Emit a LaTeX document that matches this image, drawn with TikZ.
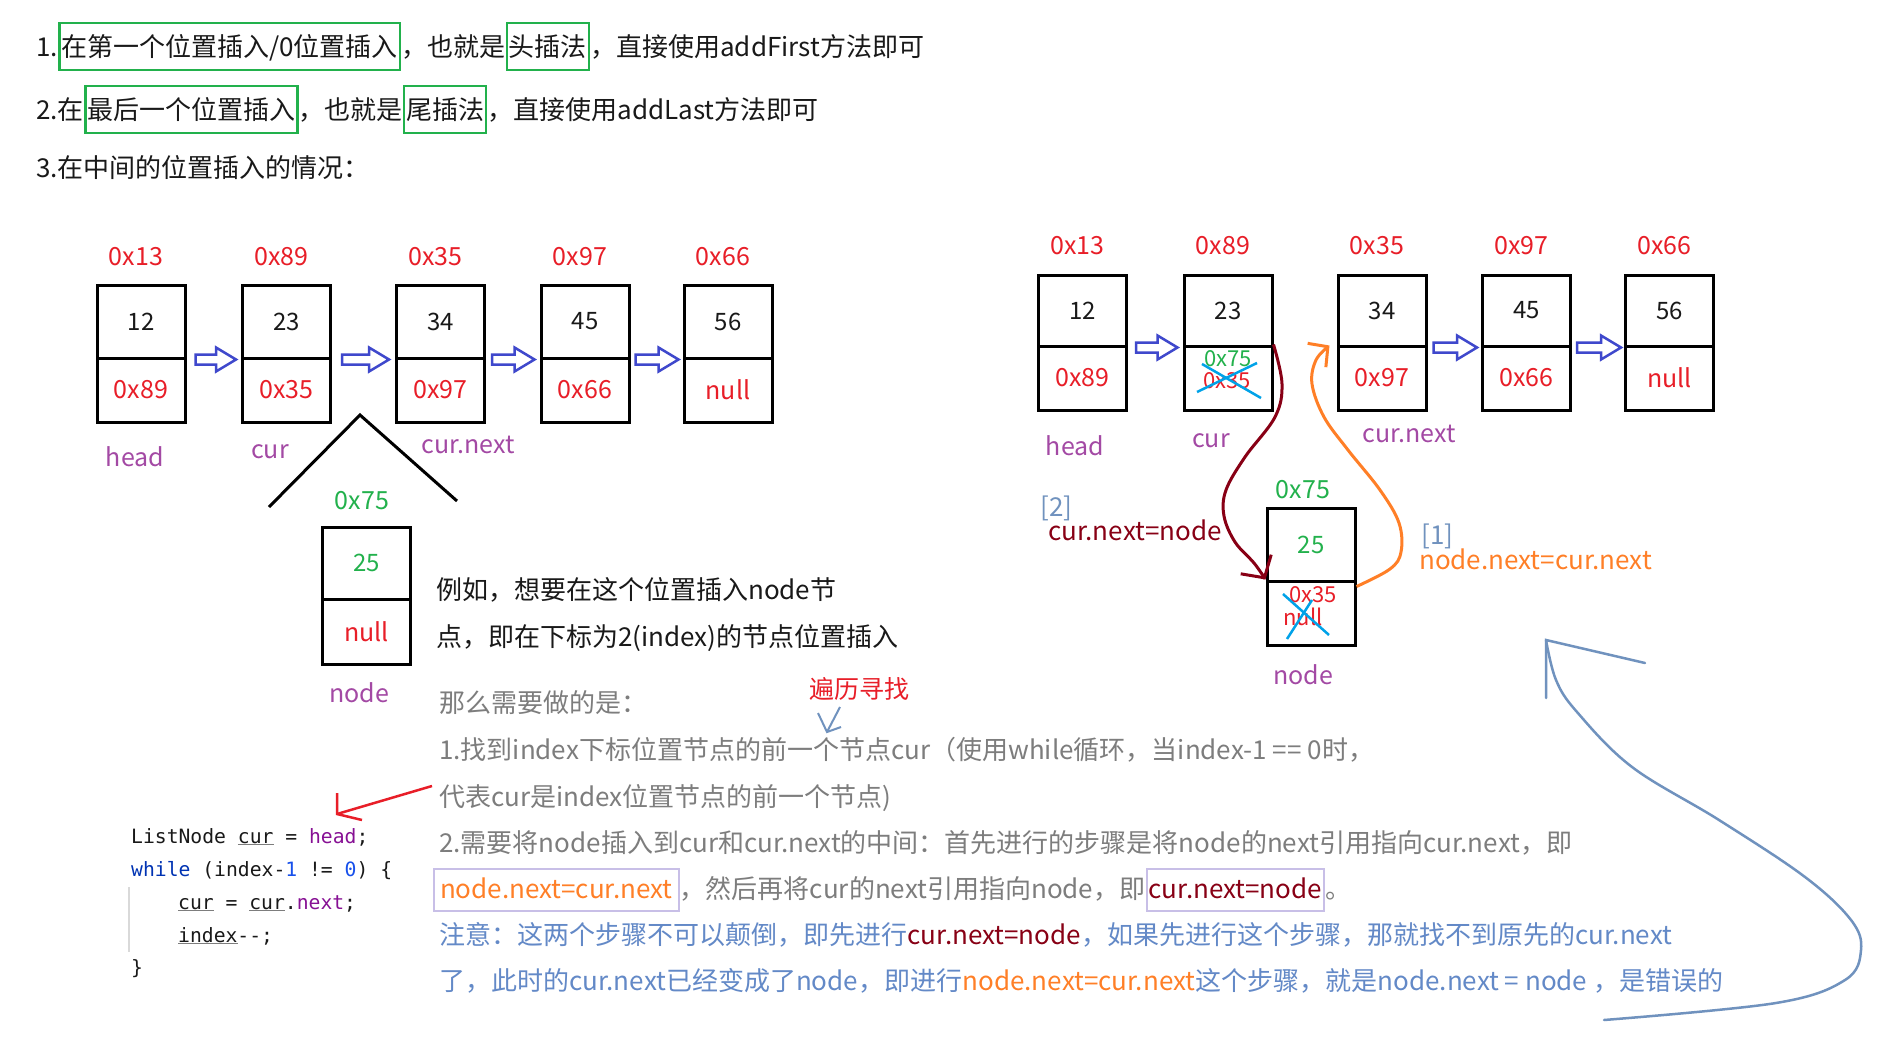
\documentclass[tikz,border=0pt]{standalone}
\usepackage{fontspec}
\setmainfont{Noto Sans CJK SC}
\setmonofont{DejaVu Sans Mono}
\usetikzlibrary{calc,arrows.meta}
\newcommand\fsz[1]{\fontsize{#1}{#1}\selectfont}
\definecolor{mred}{RGB}{232,30,40}
\definecolor{mpurple}{RGB}{163,73,164}
\definecolor{mgreen}{RGB}{34,177,76}
\definecolor{mindigo}{RGB}{63,72,204}
\definecolor{mdarkred}{RGB}{136,0,21}
\definecolor{morange}{RGB}{255,127,39}
\definecolor{mturq}{RGB}{0,162,232}
\definecolor{mbluegray}{RGB}{112,146,190}
\definecolor{mlav}{RGB}{200,191,231}
\definecolor{tgray}{RGB}{125,125,125}
\definecolor{tblue}{RGB}{99,137,199}
\definecolor{kwblue}{RGB}{0,51,179}
\definecolor{numblue}{RGB}{23,80,235}
\definecolor{kpurple}{RGB}{135,16,148}
\definecolor{tblack}{RGB}{25,25,25}
\newcommand\ulc[1]{\leavevmode\rlap{\color{tgray}\underline{\phantom{#1}}}#1}
\newcommand\hollowarr[2]{\draw[harr] let \p1=(#1), \p2=(#2) in
  (\x1,\y1+5pt) -- (\x2-20pt,\y1+5pt) -- (\x2-20pt,\y1+12pt) -- (\x2,\y1)
  -- (\x2-20pt,\y1-12pt) -- (\x2-20pt,\y1-5pt) -- (\x1,\y1-5pt) -- cycle;}
\begin{document}
\begin{tikzpicture}[x=1pt,y=-1pt,
  tt/.style={inner sep=0, anchor=base west, font=\fsz{26}, text=tblack},
  gbox/.style={draw=mgreen, line width=2.5pt, inner xsep=2pt, inner ysep=10pt, text height=23pt, text depth=4pt, anchor=base west, font=\fsz{26}, text=tblack},
  bt/.style={inner sep=0, anchor=base west, font=\fsz{26}},
  lbox/.style={draw=mlav, line width=2pt, inner xsep=6pt, inner ysep=8pt, text height=22pt, text depth=4pt, anchor=base west, font=\fsz{26}},
  topc/.style={draw, line width=3pt, minimum width=88pt, minimum height=73pt, inner sep=0, font=\fsz{24}, text=tblack},
  botc/.style={draw, line width=3pt, minimum width=88pt, minimum height=64pt, inner sep=0, font=\fsz{25}, text=mred},
  addr/.style={font=\fsz{25}, text=mred, inner sep=0},
  lab/.style={font=\fsz{25}, text=mpurple, inner sep=0},
  small/.style={font=\fsz{22}, inner sep=0},
  harr/.style={draw=mindigo, line width=2.5pt, line join=miter},
  code/.style={inner sep=0, anchor=base west, font=\ttfamily\fsz{19.7}, text=tblack},
  cross/.style={draw=mturq, line width=2.5pt},
]
\useasboundingbox (0,0) rectangle (1901,1047);
\fill[white] (0,0) rectangle (1901,1047);

% ---------- top lines ----------
\node[tt] (l1a) at (36,56) {1.};
\node[gbox] (l1b) at (l1a.base east) {在第一个位置插入/0位置插入};
\node[tt] (l1c) at (l1b.base east) {，也就是};
\node[gbox] (l1d) at (l1c.base east) {头插法};
\node[tt] (l1e) at (l1d.base east) {，直接使用addFirst方法即可};

\node[tt] (l2a) at (36,119) {2.在};
\node[gbox] (l2b) at (l2a.base east) {最后一个位置插入};
\node[tt] (l2c) at (l2b.base east) {，也就是};
\node[gbox] (l2d) at (l2c.base east) {尾插法};
\node[tt] (l2e) at (l2d.base east) {，直接使用addLast方法即可};

\node[tt] (l3a) at (36,177) {3.在中间的位置插入的情况：};

% ---------- left diagram ----------
\foreach \n/\x/\v/\p/\a in {1/141/12/0x89/0x13, 2/286.5/23/0x35/0x89, 3/440.5/34/0x97/0x35, 4/585/45/0x66/0x97, 5/728/56/null/0x66}{
  \node[topc] (L\n t) at (\x,321.5) {\v};
  \node[botc] (L\n b) at (\x,390) {\p};
  \node[addr] (LA\n) at (\x-5,257) {\a};
}
\hollowarr{$(L1t.south east)+(9,0)$}{$(L2t.south west)+(-5,0)$}
\hollowarr{$(L2t.south east)+(10,0)$}{$(L3t.south west)+(-6,0)$}
\hollowarr{$(L3t.south east)+(6,0)$}{$(L4t.south west)+(-5,0)$}
\hollowarr{$(L4t.south east)+(5,0)$}{$(L5t.south west)+(-4,0)$}
\node[lab] (Lhead) at (135,457) {head};
\node[lab] (Lcur) at (270,452) {cur};
\node[lab] (Lcn) at (468,445) {cur.next};

\coordinate (apex) at (360,415);
\coordinate (triL) at (269,507);
\coordinate (triR) at (457,501);
\draw[line width=3pt] (triL) -- (apex) -- (triR);

\node[topc, minimum height=72pt, text=mgreen] (NLt) at (366.5,563) {25};
\node[botc, minimum height=65pt] (NLb) at (366.5,631.5) {null};
\node[addr, text=mgreen] (NLa) at (362,501) {0x75};
\node[lab] (NLl) at (359,693) {node};

\node[bt, text=tblack] (e1) at (436,599.5) {例如，想要在这个位置插入node节};
\node[bt, text=tblack] (e2) at (436,646.5) {点，即在下标为2(index)的节点位置插入};

% ---------- right diagram ----------
\foreach \n/\x/\v/\p/\a in {1/1082.5/12/0x89/0x13, 2/1228/23/{}/0x89, 3/1382/34/0x97/0x35, 4/1526.5/45/0x66/0x97, 5/1669.5/56/null/0x66}{
  \node[topc, minimum height=71pt] (R\n t) at (\x,310.5) {\v};
  \node[botc] (R\n b) at (\x,378) {\p};
  \node[addr] (RA\n) at (\x-5,246) {\a};
}
\hollowarr{$(R1t.south east)+(8,0)$}{$(R2t.south west)+(-5,0)$}
\hollowarr{$(R3t.south east)+(6,0)$}{$(R4t.south west)+(-4,0)$}
\hollowarr{$(R4t.south east)+(5,0)$}{$(R5t.south west)+(-3,0)$}
\node[lab] (Rhead) at (1075,446) {head};
\node[lab] (Rcur) at (1211,441) {cur};
\node[lab] (Rcn) at (1409,434) {cur.next};

\node[small, text=mgreen] (R2new) at (1228,359) {0x75};
\node[small, text=mred] (R2old) at (1227,381) {0x35};
\draw[cross] (1202,364) -- (1261,398);
\draw[cross] (1197,392) -- (1257,363);

\node[topc, text=mgreen] (NRt) at (1311,544.5) {25};
\node[botc] (NRb) at (1311,613) {};
\node[addr, text=mgreen] (NRa) at (1303,490) {0x75};
\node[lab] (NRl) at (1303,675) {node};
\node[small, text=mred] (NRold1) at (1313,595) {0x35};
\node[small, text=mred] (NRold2) at (1303,617) {null};
\draw[cross] (1283,594) -- (1329,635);
\draw[cross] (1287,639) -- (1312,600);

% dark red: cur.next=node
\draw[mdarkred, line width=3pt, -{Straight Barb[length=16pt,width=36pt]}]
  plot[smooth, tension=0.6] coordinates {(R2b.north east) (1282,384) (1275,417) (1245,457) (1226,490) (1224,516) (1235,542) (1254,563) (NRb.north west)};
% orange: node.next=cur.next
\draw[morange, line width=3pt, -{Straight Barb[length=14pt,width=30pt]}]
  plot[smooth, tension=0.6] coordinates {($(NRb.north east)+(0,7)$) (1390,569) (1401,552) (1399,523) (1380,490) (1348,450) (1324,417) (1312,384) (1316,360) ($(R3t.south west)+(-7,-2)$)};

\node[bt, text=mbluegray] (lb2) at (1040,516) {[2]};
\node[bt, text=mdarkred] (lc2) at (1048,540) {cur.next=node};
\node[bt, text=mbluegray] (lb1) at (1421,544) {[1]};
\node[bt, text=morange] (lc1) at (1419,569) {node.next=cur.next};

% big blue-gray hook arrow
\coordinate (hooktip) at (1546,640);
\coordinate (hookw1) at (1546,698);
\coordinate (hookw2) at (1645,663);
\draw[mbluegray, line width=2.5pt, line cap=round] (hookw1) -- (hooktip) -- (hookw2);
\draw[mbluegray, line width=2.5pt, line cap=round]
  plot[smooth, tension=0.6] coordinates {(hooktip) (1556,680) (1577,712) (1632,767) (1719,820) (1805,877) (1851,920) (1861,950) (1845,980) (1776,1003) (1604,1020)};

% ---------- text block ----------
\node[bt, text=tgray] (b0) at (439,712.5) {那么需要做的是：};
\node[font=\fsz{25}, text=mred, inner sep=0] (trav) at (859,689) {遍历寻找};
\coordinate (ck0) at (840,707);
\coordinate (ck1) at (827,732);
\draw[mbluegray, line width=2pt] (ck0) -- (ck1);
\draw[mbluegray, line width=2pt] (818,713) -- (ck1) -- (841,727);

\node[bt, text=tgray] (b1) at (439,759.5) {1.找到index下标位置节点的前一个节点cur（使用while循环，当index-1 == 0时，};
\node[bt, text=tgray] (b2) at (439,806.5) {代表cur是index位置节点的前一个节点)};
\node[bt, text=tgray] (b3) at (439,852.5) {2.需要将node插入到cur和cur.next的中间：首先进行的步骤是将node的next引用指向cur.next，即};
\node[lbox, text=morange] (b4a) at (433,898.5) {node.next=cur.next};
\node[bt, text=tgray] (b4b) at (b4a.base east) {，然后再将cur的next引用指向node，即};
\node[lbox, text=mdarkred, inner xsep=2pt] (b4c) at (b4b.base east) {cur.next=node};
\node[bt, text=tgray] (b4d) at (b4c.base east) {。};
\node[bt, text=tblue] (b5a) at (439,944.5) {注意：这两个步骤不可以颠倒，即先进行};
\node[bt, text=mdarkred] (b5b) at (b5a.base east) {cur.next=node};
\node[bt, text=tblue] (b5c) at (b5b.base east) {，如果先进行这个步骤，那就找不到原先的cur.next};
\node[bt, text=tblue] (b6a) at (439,990.5) {了，此时的cur.next已经变成了node，即进行};
\node[bt, text=morange] (b6b) at (b6a.base east) {node.next=cur.next};
\node[bt, text=tblue] (b6c) at (b6b.base east) {这个步骤，就是node.next = node ，是错误的};

% red arrow to code
\coordinate (ra0) at (432,786);
\coordinate (ra1) at (337,814);
\draw[mred, line width=2.5pt] (ra0) -- (ra1);
\draw[mred, line width=2.5pt] (337,793) -- (ra1) -- (362,820);

% ---------- code ----------
\draw[black!15, line width=1.5pt] (129,887) -- (129,952);
\node[code] (c1) at (131,843) {ListNode \ulc{cur} = \textcolor{kpurple}{head};};
\node[code] (c2) at (131,876) {\textcolor{kwblue}{while} (index-\textcolor{numblue}{1} != \textcolor{numblue}{0}) \{};
\node[code] (c3) at (178,909) {\ulc{cur} = \ulc{cur}.\textcolor{kpurple}{next};};
\node[code] (c4) at (178,942) {\ulc{index}-{}-;};
\node[code] (c5) at (131,974) {\}};
\end{tikzpicture}
\end{document}
